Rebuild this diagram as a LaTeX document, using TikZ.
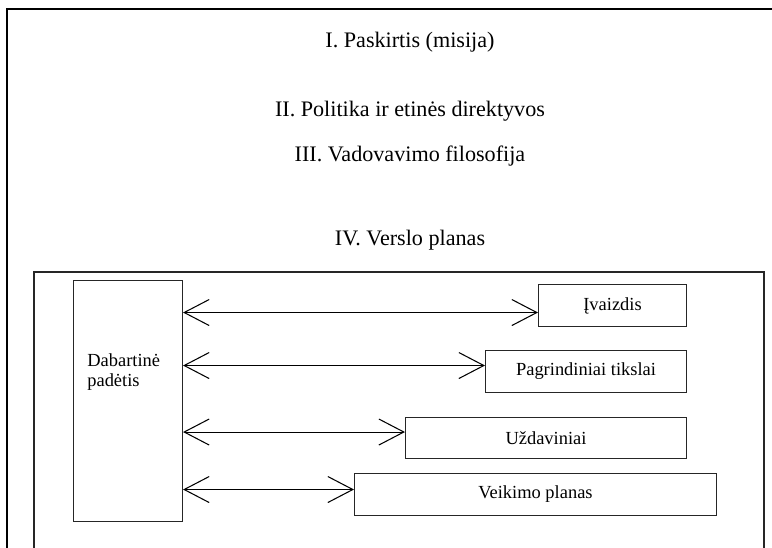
\documentclass[tikz,border=0pt]{standalone}
\usepackage{fontspec}
\setmainfont{Liberation Serif}
\usetikzlibrary{arrows.meta,positioning}
\tikzset{
  heading/.style={anchor=base,inner sep=0pt,font=\fontsize{12.6}{14}\selectfont},
  goalbox/.style={draw=black!85,line width=0.6pt,anchor=north west,inner sep=0pt,
    minimum height=0.84cm,font=\fontsize{10.5}{12}\selectfont},
  biarrow/.style={line width=0.6pt,
    {Straight Barb[length=0.5cm,width=0.52cm]}-{Straight Barb[length=0.5cm,width=0.52cm]}}
}

\begin{document}
\begin{tikzpicture}[x=0.02cm,y=-0.02cm]
  \useasboundingbox (0,0) rectangle (772,548);
  % frames (cut off at the right and bottom)
  \draw [line width=1.3pt] (7,548) -- (7,9) -- (772,9);
  \draw [draw=black!85,line width=0.7pt] (34,548) -- (34,272) -- (764,272) -- (764,548);
  % headings
  \node [heading] (misija) at (410,47) {I. Paskirtis (misija)};
  \node [heading] (politika) at (410,116) {II. Politika ir etinės direktyvos};
  \node [heading] (filosofija) at (410,161) {III. Vadovavimo filosofija};
  \node [heading] (verslas) at (410,245) {IV. Verslo planas};
  % business plan
  \node [goalbox,minimum width=2.18cm,minimum height=4.82cm] (dab) at (73,280) {};
  \node [anchor=base west,inner sep=0pt,align=left,font=\fontsize{10.5}{11}\selectfont]
    (dabtxt) at (87,386) {Dabartinė\\padėtis};
  \node [goalbox,minimum width=2.96cm] (img) at (538,284) {Įvaizdis};
  \node [goalbox,minimum width=4.02cm] (tiksl) at (485,350) {Pagrindiniai tikslai};
  \node [goalbox,minimum width=5.62cm,minimum height=0.82cm] (uzd) at (405,417) {Uždaviniai};
  \node [goalbox,minimum width=7.24cm] (veik) at (354,473) {Veikimo planas};
  % arrows
  \coordinate (a1) at ([yshift=-0.14cm]img.west);
  \coordinate (a2) at ([yshift=0.12cm]tiksl.west);
  \coordinate (a3) at ([yshift=0.12cm]uzd.west);
  \coordinate (a4) at ([yshift=0.10cm]veik.west);
  \foreach \a in {a1,a2,a3,a4}
    \draw [biarrow] (dab.east |- \a) -- (\a);
\end{tikzpicture}
\end{document}
